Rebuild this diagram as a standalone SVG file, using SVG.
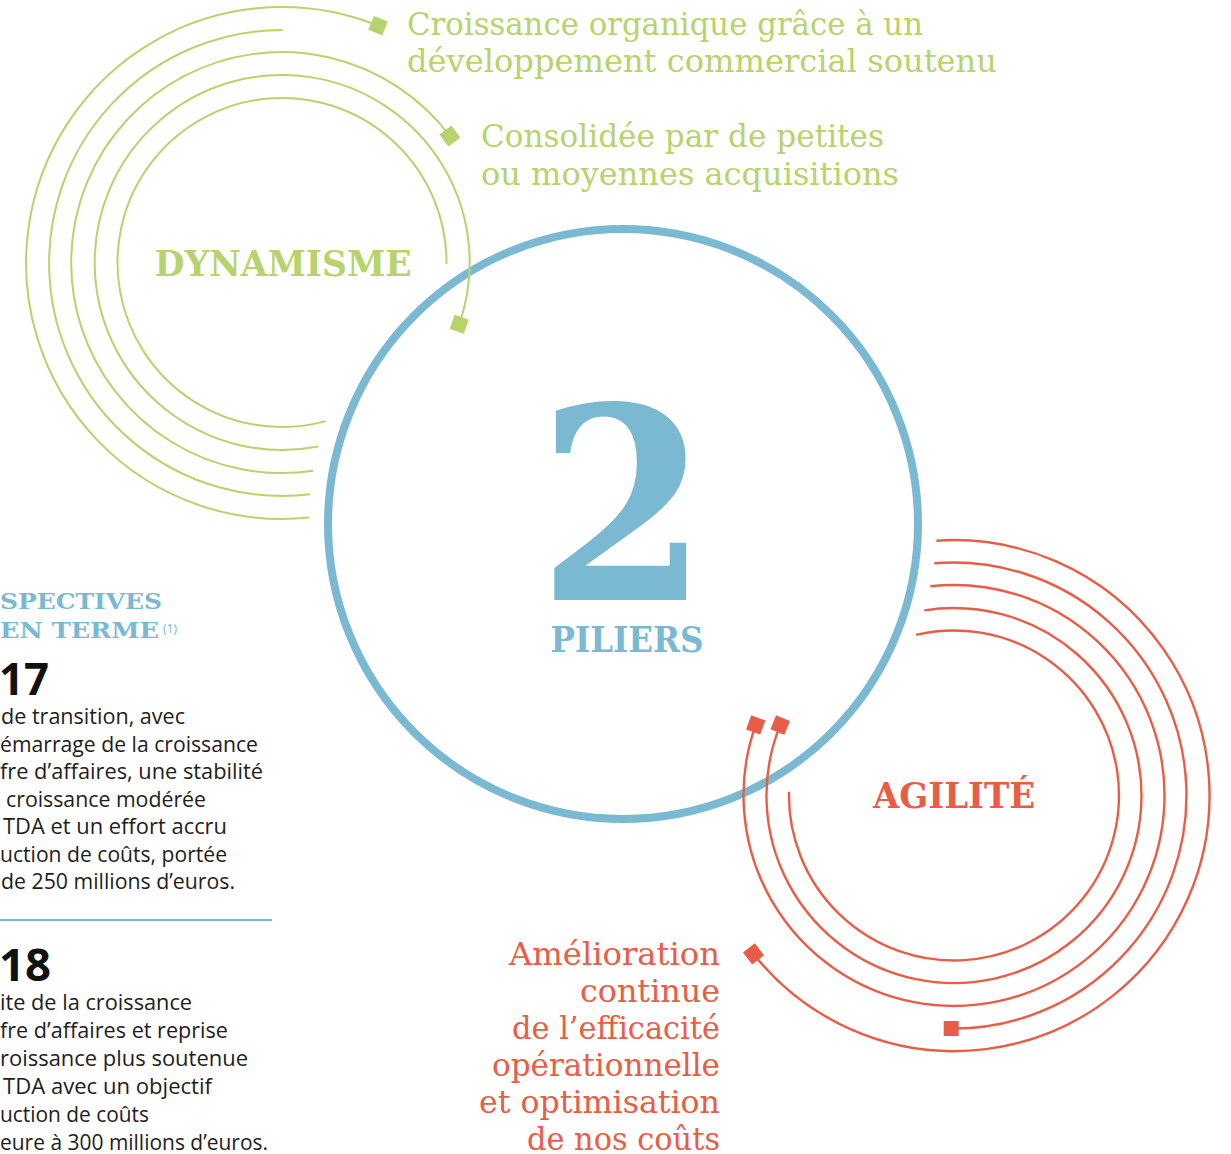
<svg xmlns="http://www.w3.org/2000/svg" width="1231" height="1154" viewBox="0 0 1231 1154">
  <defs>
    <style>
      .g-arc { fill: none; stroke: #b7d36c; stroke-width: 2; }
      .r-arc { fill: none; stroke: #e95d47; stroke-width: 2.4; }
      .g-mark { fill: #b7d36c; }
      .r-mark { fill: #e95d47; }
      .slab { font-family: "DejaVu Serif", "Liberation Serif", serif; }
      .title { font-family: "DejaVu Serif", "Liberation Serif", serif; font-weight: bold; font-size: 35px; }
      .g-txt { fill: #b7d36c; font-size: 31px; }
      .r-txt { fill: #e95d47; font-size: 31px; }
      .body { font-family: "Open Sans", "Noto Sans", "Liberation Sans", sans-serif; font-size: 21px; fill: #1d1d1b; }
      .year { font-family: "Open Sans", "Noto Sans", "Liberation Sans", sans-serif; font-weight: bold; font-size: 44px; fill: #111111; }
      .persp { font-family: "DejaVu Serif", "Liberation Serif", serif; font-weight: bold; font-size: 22px; fill: #7ab9d1; }
    </style>
    <rect id="mk" x="-7.5" y="-7.5" width="15" height="15"/>
  </defs>

  <!-- central pillar ring -->
  <g id="node-piliers">
    <circle cx="623" cy="524" r="295" fill="none" stroke="#7ab9d1" stroke-width="8"/>
    <text class="slab" x="623" y="600" text-anchor="middle" font-weight="bold" font-size="268" fill="#7ab9d1" textLength="170" lengthAdjust="spacingAndGlyphs">2</text>
    <text class="title" x="627" y="652" text-anchor="middle" fill="#7ab9d1" textLength="153" lengthAdjust="spacingAndGlyphs">PILIERS</text>
  </g>

  <!-- DYNAMISME pillar -->
  <g id="node-dynamisme">
    <text class="title" x="283" y="276" text-anchor="middle" fill="#b7d36c" textLength="257" lengthAdjust="spacingAndGlyphs">DYNAMISME</text>
  </g>

  <!-- AGILITE pillar -->
  <g id="node-agilite">
    <text class="title" x="954" y="808" text-anchor="middle" fill="#e95d47" textLength="162" lengthAdjust="spacingAndGlyphs">AGILITÉ</text>
  </g>

  <!-- concentric arcs with their end markers -->
  <g id="connectors">
    <!-- green rings around DYNAMISME, centre (282,263) -->
    <path class="g-arc" d="M309,517.6 A256,256 0 1 1 378.1,25.7"/>
    <path class="g-arc" d="M310.2,494.3 A233,233 0 1 1 282.8,30"/>
    <path class="g-arc" d="M313.2,470.7 A210.5,210.5 0 1 1 449.9,136"/>
    <path class="g-arc" d="M318.2,446.5 A187.5,187.5 0 1 1 459.2,324.3"/>
    <path class="g-arc" d="M325.6,421.1 A164.5,164.5 0 1 1 446.5,264.2"/>
    <use href="#mk" class="g-mark" transform="translate(378.1,25.7) rotate(22)"/>
    <use href="#mk" class="g-mark" transform="translate(449.9,136) rotate(53)"/>
    <use href="#mk" class="g-mark" transform="translate(459.2,324.3) rotate(19)"/>

    <!-- red rings around AGILITE, centre (954,795.5) -->
    <path class="r-arc" d="M936.4,540.7 A255.5,255.5 0 1 1 753.5,953.9"/>
    <path class="r-arc" d="M934.3,563.3 A233,233 0 1 1 951.2,1028.5"/>
    <path class="r-arc" d="M930.3,586.3 A210.5,210.5 0 1 1 755.7,724.9"/>
    <path class="r-arc" d="M924.3,610.4 A187.5,187.5 0 1 1 780.2,725.1"/>
    <path class="r-arc" d="M916,634.9 A165,165 0 1 1 789,791.7"/>
    <use href="#mk" class="r-mark" transform="translate(753.5,953.9) rotate(52)"/>
    <use href="#mk" class="r-mark" transform="translate(951.2,1028.5)"/>
    <use href="#mk" class="r-mark" transform="translate(755.7,724.9) rotate(20)"/>
    <use href="#mk" class="r-mark" transform="translate(780.2,725.1) rotate(22)"/>
  </g>

  <!-- green captions -->
  <g id="node-croissance">
    <text class="slab g-txt" x="407" y="35" textLength="516" lengthAdjust="spacingAndGlyphs">Croissance organique grâce à un</text>
    <text class="slab g-txt" x="407" y="72" textLength="590" lengthAdjust="spacingAndGlyphs">développement commercial soutenu</text>
  </g>
  <g id="node-consolidee">
    <text class="slab g-txt" x="481" y="147" textLength="403" lengthAdjust="spacingAndGlyphs">Consolidée par de petites</text>
    <text class="slab g-txt" x="481" y="185" textLength="418" lengthAdjust="spacingAndGlyphs">ou moyennes acquisitions</text>
  </g>

  <!-- red caption -->
  <g id="node-amelioration" text-anchor="end">
    <text class="slab r-txt" x="720" y="965" textLength="211" lengthAdjust="spacingAndGlyphs">Amélioration</text>
    <text class="slab r-txt" x="720" y="1002" textLength="140" lengthAdjust="spacingAndGlyphs">continue</text>
    <text class="slab r-txt" x="720" y="1039" textLength="208" lengthAdjust="spacingAndGlyphs">de l’efficacité</text>
    <text class="slab r-txt" x="720" y="1076" textLength="228" lengthAdjust="spacingAndGlyphs">opérationnelle</text>
    <text class="slab r-txt" x="720" y="1113" textLength="241" lengthAdjust="spacingAndGlyphs">et optimisation</text>
    <text class="slab r-txt" x="720" y="1150" textLength="193" lengthAdjust="spacingAndGlyphs">de nos coûts</text>
  </g>

  <!-- outlook panel on the left edge -->
  <g id="node-perspectives">
    <text class="persp" x="0" y="609" textLength="162" lengthAdjust="spacingAndGlyphs">SPECTIVES</text>
    <text class="persp" x="0" y="638" textLength="159" lengthAdjust="spacingAndGlyphs">EN TERME</text>
    <text x="163" y="633" font-family="Open Sans, Noto Sans, sans-serif" font-size="12" fill="#7ab9d1">(1)</text>

    <text class="year" x="-1" y="695" textLength="50" lengthAdjust="spacingAndGlyphs">17</text>
    <text class="body" x="1" y="724" textLength="184" lengthAdjust="spacingAndGlyphs">de transition, avec</text>
    <text class="body" x="0" y="751.5" textLength="258" lengthAdjust="spacingAndGlyphs">émarrage de la croissance</text>
    <text class="body" x="0" y="779" textLength="263" lengthAdjust="spacingAndGlyphs">fre d’affaires, une stabilité</text>
    <text class="body" x="6" y="806.5" textLength="200" lengthAdjust="spacingAndGlyphs">croissance modérée</text>
    <text class="body" x="3" y="834" textLength="224" lengthAdjust="spacingAndGlyphs">TDA et un effort accru</text>
    <text class="body" x="0" y="861.5" textLength="227" lengthAdjust="spacingAndGlyphs">uction de coûts, portée</text>
    <text class="body" x="1" y="889" textLength="234" lengthAdjust="spacingAndGlyphs">de 250 millions d’euros.</text>

    <line x1="0" y1="920" x2="272" y2="920" stroke="#7ab9d1" stroke-width="2.2"/>

    <text class="year" x="-1" y="981" textLength="52" lengthAdjust="spacingAndGlyphs">18</text>
    <text class="body" x="0" y="1010" textLength="192" lengthAdjust="spacingAndGlyphs">ite de la croissance</text>
    <text class="body" x="0" y="1038" textLength="228" lengthAdjust="spacingAndGlyphs">fre d’affaires et reprise</text>
    <text class="body" x="0" y="1066" textLength="248" lengthAdjust="spacingAndGlyphs">roissance plus soutenue</text>
    <text class="body" x="3" y="1094" textLength="209" lengthAdjust="spacingAndGlyphs">TDA avec un objectif</text>
    <text class="body" x="0" y="1122" textLength="149" lengthAdjust="spacingAndGlyphs">uction de coûts</text>
    <text class="body" x="0" y="1150" textLength="268" lengthAdjust="spacingAndGlyphs">eure à 300 millions d’euros.</text>
  </g>
</svg>
